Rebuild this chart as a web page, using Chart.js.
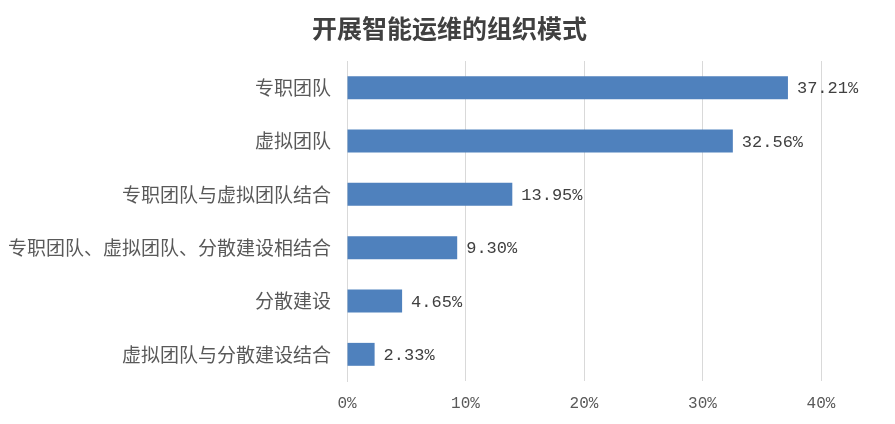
<!DOCTYPE html>
<html>
<head>
<meta charset="utf-8">
<script src="https://cdn.jsdelivr.net/npm/chart.js@4"></script>
<style>
  html, body { margin: 0; padding: 0; background: #fff; }
  #wrap { position: relative; width: 895px; height: 424px; }
</style>
</head>
<body>
<div id="wrap"><canvas id="chart"></canvas></div>
<script>
const chartTitle = '开展智能运维的组织模式';
const categories = ['专职团队', '虚拟团队', '专职团队与虚拟团队结合', '专职团队、虚拟团队、分散建设相结合', '分散建设', '虚拟团队与分散建设结合'];
const shares = [37.21, 32.56, 13.95, 9.30, 4.65, 2.33];
const tickValues = [0, 10, 20, 30, 40];

const numFont = "'Liberation Mono', 'Noto Sans CJK SC', monospace";
const cjkFont = "'Noto Sans CJK SC', sans-serif";

// title centred on the whole canvas + value labels at the bar ends
const extras = {
    id: 'extras',
    afterDraw(chart) {
        const ctx = chart.ctx;
        ctx.save();
        ctx.font = "bold 25px " + cjkFont;
        ctx.fillStyle = '#404040';
        ctx.textAlign = 'center';
        ctx.textBaseline = 'middle';
        ctx.fillText(chartTitle, chart.width / 2 + 2, 28);
        ctx.restore();
    },
    afterDatasetsDraw(chart) {
        const ctx = chart.ctx;
        const meta = chart.getDatasetMeta(0);
        ctx.save();
        ctx.font = "17px " + numFont;
        ctx.fillStyle = '#404040';
        ctx.textAlign = 'left';
        ctx.textBaseline = 'middle';
        meta.data.forEach((bar, i) => {
            ctx.fillText(shares[i].toFixed(2) + '%', bar.x + 9, bar.y + 1);
        });
        ctx.restore();
    }
};

new Chart(document.getElementById('chart'), {
    type: 'bar',
    data: {
        labels: categories,
        datasets: [{
            data: shares,
            backgroundColor: '#4F81BD',
            borderWidth: 0,
            categoryPercentage: 1,
            barPercentage: 0.43
        }]
    },
    options: {
        indexAxis: 'y',
        responsive: true,
        maintainAspectRatio: false,
        animation: false,
        layout: { padding: { left: 0, right: 74, top: 61, bottom: 0 } },
        plugins: {
            legend: { display: false },
            tooltip: { enabled: false },
            title: { display: false }
        },
        scales: {
            x: {
                min: 0,
                max: 40,
                afterBuildTicks: scale => { scale.ticks = tickValues.map(v => ({ value: v })); },
                afterFit: scale => { scale.height = 43; },
                grid: { color: '#d9d9d9', drawTicks: false },
                border: { display: false },
                ticks: {
                    padding: 13,
                    color: '#595959',
                    font: { size: 16, family: numFont },
                    callback: v => v + '%'
                }
            },
            y: {
                afterFit: scale => { scale.width = 347; },
                grid: { display: false },
                border: { display: true, color: '#d9d9d9', width: 1 },
                ticks: {
                    padding: 8,
                    color: '#595959',
                    font: { size: 19, family: cjkFont }
                }
            }
        }
    },
    plugins: [extras]
});
</script>
</body>
</html>
